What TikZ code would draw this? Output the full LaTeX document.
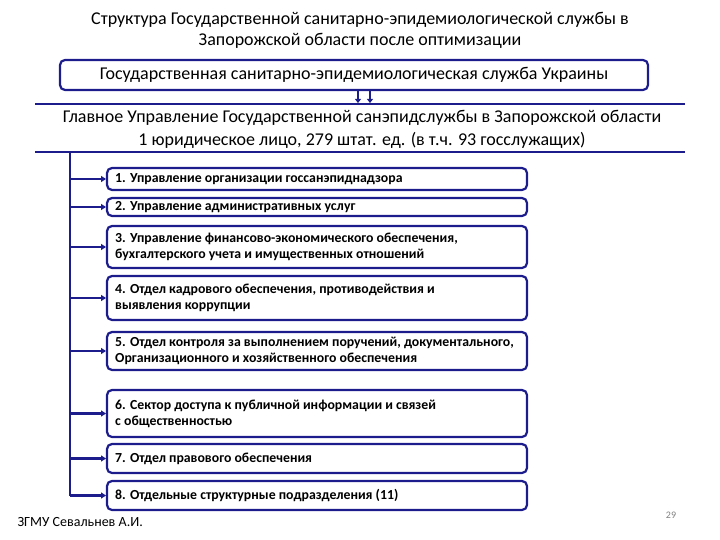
\documentclass[tikz,border=0pt]{standalone}
\usepackage{fontspec}
\setmainfont{Carlito}
\usetikzlibrary{arrows.meta}
\definecolor{nv}{HTML}{1C1C8C}
\begin{document}
\begin{tikzpicture}[x=1pt,y=-1pt,
  sub/.style={draw=nv,line width=2.2pt,rounded corners=5pt,fill=white},
  lbl/.style={anchor=west,align=left,font=\fontsize{13.8}{16}\selectfont\bfseries},
  con/.style={draw=nv,line width=2.4pt,-{Triangle[length=5pt,width=6pt]}}]
\useasboundingbox (0,0) rectangle (720,540);
\node[font=\fontsize{18}{21}\selectfont,align=center] (title) at (360,30) {Структура Государственной санитарно-эпидемиологической службы в\\Запорожской области после оптимизации};
\node[sub,minimum width=588pt,minimum height=30pt,font=\fontsize{18}{17}\selectfont] (top) at (354,75) {Государственная санитарно-эпидемиологическая служба Украины};
\draw[nv,line width=1.8pt] (35,104) -- (685,104) (35,152) -- (685,152);
\node[font=\fontsize{18}{23}\selectfont,align=center,inner sep=0pt] (main) at (362,129) {Главное Управление Государственной санэпидслужбы в Запорожской области\\1 юридическое лицо, 279 штат. ед. (в т.ч. 93 госслужащих)};
\draw[nv,line width=1.8pt,-{Triangle[length=4pt,width=6pt]}] (358,90) -- (358,103);
\draw[nv,line width=1.8pt,-{Triangle[length=4pt,width=6pt]}] (370,90) -- (370,103);
\coordinate (v0) at (70,152);
\coordinate (v1) at (70,496);
\draw[nv,line width=2.4pt] (v0) -- (v1);
\foreach \n/\t/\b/\txt in {
 1/168/190/{1. Управление организации госсанэпиднадзора},
 2/198/216/{2. Управление административных услуг},
 3/226/268/{3. Управление финансово-экономического обеспечения,\\бухгалтерского учета и имущественных отношений},
 4/276/320/{4. Отдел кадрового обеспечения, противодействия и\\выявления коррупции},
 5/332/370/{5. Отдел контроля за выполнением поручений, документального,\\Организационного и хозяйственного обеспечения},
 6/390/437/{6. Сектор доступа к публичной информации и связей\\с общественностью},
 7/444/473/{7. Отдел правового обеспечения},
 8/481/510/{8. Отдельные структурные подразделения (11)}}{
  \path[sub] (107,\t) rectangle (527,\b);
  \node[lbl,inner sep=1pt] (b\n) at (114,{(\t+\b)/2}) {\txt};
  \coordinate (a\n) at (70,{(\t+\b)/2});
  \draw[con] (a\n) -- (106,{(\t+\b)/2});
}
\node[anchor=west,font=\fontsize{14}{16}\selectfont] (foot) at (14,522) {ЗГМУ Севальнев А.И.};
\node[font=\fontsize{10}{11}\selectfont,text=gray] (pg) at (671,515) {29};
\end{tikzpicture}
\end{document}
